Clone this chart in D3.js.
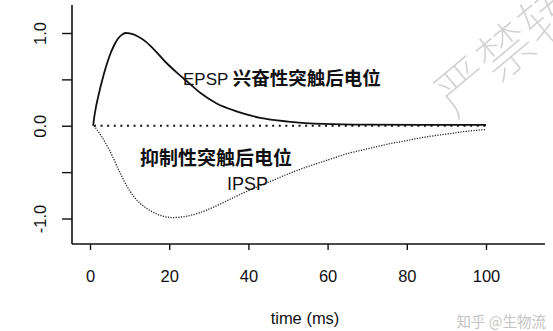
<!DOCTYPE html>
<html>
<head>
<meta charset="utf-8">
<script src="https://cdn.jsdelivr.net/npm/d3@7"></script>
<style>
  html, body { margin: 0; padding: 0; background: #fff; }
  svg { display: block; }
  text { font-family: "Liberation Sans", Arial, sans-serif; }
  .cjk { font-family: "Noto Sans CJK SC", sans-serif; }
</style>
</head>
<body>
<svg id="chart" width="553" height="331"></svg>
<script>
// Excitatory postsynaptic potential (normalised), time in ms
const epspTime  = [0.8, 1.1, 1.5, 2, 2.6, 3.2, 4, 5, 6, 7, 8, 9, 10, 12, 14, 16, 19, 22, 25, 28, 32, 37, 43, 50, 59, 70, 85, 100];
const epspValue = [0, 0.1, 0.2, 0.3, 0.41, 0.51, 0.63, 0.76, 0.86, 0.935, 0.98, 1.0, 0.995, 0.965, 0.91, 0.83, 0.69, 0.57, 0.46, 0.35, 0.24, 0.155, 0.085, 0.045, 0.02, 0.012, 0.01, 0.01];

// Inhibitory postsynaptic potential (normalised), time in ms
const ipspTime  = [1, 3, 5, 7.5, 10, 12.5, 15, 18, 21, 25, 30, 35, 40, 45, 50, 55, 60, 65, 70, 75, 80, 85, 90, 95, 100];
const ipspValue = [0, -0.12, -0.27, -0.5, -0.7, -0.83, -0.91, -0.97, -0.99, -0.97, -0.9, -0.8, -0.7, -0.61, -0.52, -0.44, -0.37, -0.3, -0.25, -0.2, -0.16, -0.12, -0.09, -0.06, -0.04];

// Resting baseline
const baseTime  = [1, 100];
const baseValue = [0, 0];

const xTicks = [0, 20, 40, 60, 80, 100];
const yTicks = [-1, -0.5, 0, 0.5, 1];
const yTickLabels = ["-1.0", "", "0.0", "", "1.0"];

const svg = d3.select("#chart");

const x = d3.scaleLinear().domain([0, 100]).range([90, 486]);
const y = d3.scaleLinear().domain([-1, 1]).range([218.5, 33]);

// Axes (L-shaped frame)
const axisX0 = 72, axisY0 = 244;
svg.append("line").attr("x1", axisX0).attr("x2", axisX0)
  .attr("y1", 5).attr("y2", axisY0)
  .attr("stroke", "#111").attr("stroke-width", 1.6);
svg.append("line").attr("x1", axisX0).attr("x2", 545)
  .attr("y1", axisY0).attr("y2", axisY0)
  .attr("stroke", "#111").attr("stroke-width", 1.6);

const gx = svg.append("g").attr("transform", `translate(0,${axisY0})`)
  .call(d3.axisBottom(x).tickValues(xTicks).tickSize(6).tickPadding(20).tickFormat(d3.format("d")));
gx.select(".domain").remove();
gx.selectAll("line").attr("stroke", "#111").attr("stroke-width", 1.4);
gx.selectAll("text").attr("font-size", 16.5).attr("fill", "#111")
  .attr("font-family", "'Liberation Sans', Arial, sans-serif");

const gy = svg.append("g").attr("transform", `translate(${axisX0},0)`)
  .call(d3.axisLeft(y).tickValues(yTicks).tickSize(10)
    .tickFormat((d, i) => yTickLabels[i]));
gy.select(".domain").remove();
gy.selectAll("line").attr("stroke", "#111").attr("stroke-width", 1.4);
gy.selectAll("text")
  .attr("font-size", 16.5).attr("fill", "#111")
  .attr("font-family", "'Liberation Sans', Arial, sans-serif")
  .attr("text-anchor", "middle").attr("dy", null)
  .attr("x", null)
  .attr("transform", "translate(-32,0) rotate(-90)")
  .attr("dominant-baseline", "central");

svg.append("text").attr("x", 305).attr("y", 324)
  .attr("text-anchor", "middle").attr("font-size", 16.5).attr("fill", "#111")
  .text("time (ms)");

const line = d3.line().x(d => x(d[0])).y(d => y(d[1])).curve(d3.curveMonotoneX);

svg.append("path").datum(d3.zip(baseTime, baseValue))
  .attr("d", line).attr("fill", "none")
  .attr("stroke", "#111").attr("stroke-width", 2)
  .attr("stroke-dasharray", "2,4.6");

svg.append("path").datum(d3.zip(ipspTime, ipspValue))
  .attr("d", line).attr("fill", "none")
  .attr("stroke", "#222").attr("stroke-width", 1.3)
  .attr("stroke-dasharray", "1.2,1.4");

svg.append("path").datum(d3.zip(epspTime, epspValue))
  .attr("d", line).attr("fill", "none")
  .attr("stroke", "#111").attr("stroke-width", 1.8);

// Curve labels
const epspLabel = svg.append("text").attr("x", 183).attr("y", 85).attr("fill", "#111");
epspLabel.append("tspan").attr("font-size", 17).text("EPSP ");
epspLabel.append("tspan").attr("class", "cjk").attr("font-size", 18.5).attr("font-weight", 700).text("兴奋性突触后电位");

svg.append("text").attr("class", "cjk").attr("x", 140).attr("y", 165)
  .attr("font-size", 19).attr("font-weight", 700).attr("fill", "#111")
  .text("抑制性突触后电位");
svg.append("text").attr("x", 227).attr("y", 190)
  .attr("font-size", 18).attr("fill", "#111")
  .text("IPSP");

// Watermarks
svg.append("text").attr("class", "cjk")
  .attr("transform", "translate(455,119) rotate(-40)")
  .attr("font-size", 55).attr("font-weight", 100).attr("fill", "#d2d2d2")
  .text("严禁转载");
svg.append("text").attr("class", "cjk").attr("x", 546).attr("y", 327)
  .attr("text-anchor", "end").attr("font-size", 14.5).attr("fill", "#c4c4c4")
  .text("知乎 @生物流");
</script>
</body>
</html>
